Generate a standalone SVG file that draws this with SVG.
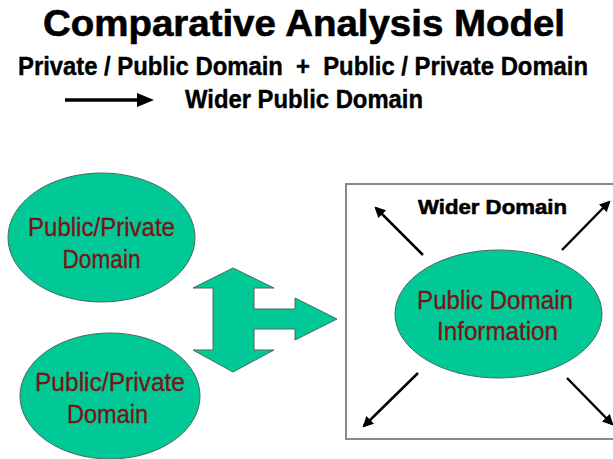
<svg xmlns="http://www.w3.org/2000/svg" width="613" height="459" viewBox="0 0 613 459">
<defs>
<style>
.title{font-family:"Liberation Sans",Arial,sans-serif;font-weight:bold;fill:#000;stroke:#000;stroke-width:0.6}
.sub{font-family:"Liberation Sans",Arial,sans-serif;font-weight:bold;fill:#000;stroke:#000;stroke-width:0.4;white-space:pre}
.node{fill:#00C896;stroke:#4a6a5a;stroke-width:1}
.lbl{font-family:"Liberation Sans",Arial,sans-serif;font-size:26px;fill:#7A1414;stroke:#7A1414;stroke-width:0.3;text-anchor:middle}
.arr{stroke:#000;stroke-width:2.5;fill:none;marker-end:url(#ah)}
</style>
<marker id="ah" viewBox="0 0 10 10" refX="8" refY="5" markerWidth="4.4" markerHeight="4.4" orient="auto" markerUnits="strokeWidth">
<path d="M0,0 L10,5 L0,10 Z" fill="#000"/>
</marker>
</defs>
<rect width="613" height="459" fill="#fff"/>
<g id="header">
<text class="title" x="43" y="36" font-size="36" textLength="522" lengthAdjust="spacingAndGlyphs">Comparative Analysis Model</text>
<text class="sub" transform="translate(18,75) scale(0.9532,1)" x="0" y="0" font-size="25" textLength="598" lengthAdjust="spacingAndGlyphs">Private / Public Domain  +  Public / Private Domain</text>
<line x1="65" y1="100" x2="140" y2="100" stroke="#000" stroke-width="3.5"/>
<path d="M137,93 L154,100 L137,107 Z" fill="#000"/>
<text class="sub" x="185" y="108" font-size="25" textLength="238" lengthAdjust="spacingAndGlyphs">Wider Public Domain</text>
</g>
<g id="node-top">
<ellipse class="node" cx="101.5" cy="237.5" rx="93.5" ry="64.5"/>
<text class="lbl" x="101.5" y="236" textLength="147" lengthAdjust="spacingAndGlyphs">Public/Private</text>
<text class="lbl" x="101.5" y="268" textLength="78" lengthAdjust="spacingAndGlyphs">Domain</text>
</g>
<g id="node-bottom">
<ellipse class="node" cx="110" cy="396" rx="90" ry="63"/>
<text class="lbl" x="110" y="391" textLength="150" lengthAdjust="spacingAndGlyphs">Public/Private</text>
<text class="lbl" x="107.5" y="423" textLength="81" lengthAdjust="spacingAndGlyphs">Domain</text>
</g>
<g id="wider-domain">
<rect x="346" y="184" width="275" height="255" fill="#fff" stroke="#8a8a8a" stroke-width="2"/>
<text class="title" x="418" y="214" font-size="21" stroke-width="0.3" textLength="149" lengthAdjust="spacingAndGlyphs">Wider Domain</text>
</g>
<g id="node-center">
<ellipse class="node" cx="498.5" cy="314" rx="103.5" ry="64"/>
<text class="lbl" x="495" y="309" textLength="156" lengthAdjust="spacingAndGlyphs">Public Domain</text>
<text class="lbl" x="497.5" y="340" textLength="121" lengthAdjust="spacingAndGlyphs">Information</text>
</g>
<g id="connectors">
<path id="combine-arrow" class="node" d="M233,268 L274,288 L254,288 L254,309 L295,309 L295,298 L337,319 L295,340 L295,329 L254,329 L254,350 L274,350 L233,372 L193,350 L213,350 L213,288 L193,288 Z"/>
<line class="arr" x1="423" y1="255" x2="376" y2="208"/>
<line class="arr" x1="562" y1="250" x2="609" y2="202"/>
<line class="arr" x1="418" y1="373" x2="364" y2="426"/>
<line class="arr" x1="567" y1="378" x2="612" y2="424"/>
</g>
</svg>
